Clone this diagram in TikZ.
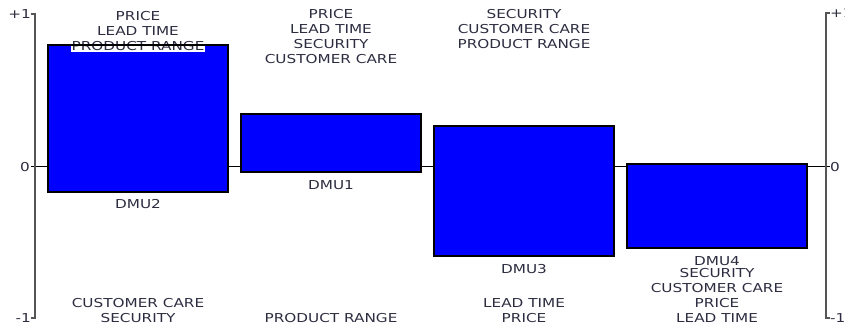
\documentclass[tikz,border=0pt]{standalone}
\usepackage{fontspec}
\setmainfont{DejaVu Sans}[FakeStretch=1.24]
\usepackage{tikz}
\usetikzlibrary{positioning}
\definecolor{barblue}{RGB}{0,0,255}
\definecolor{txtgray}{RGB}{45,45,65}
\definecolor{axisgray}{RGB}{85,85,85}

\begin{document}
\begin{tikzpicture}[
        x=1pt, y=-1pt,
        node distance=8pt,
        bar/.style={draw=black, line width=2pt, fill=barblue, inner sep=0pt, outer sep=0pt, anchor=north west, minimum width=180pt},
        lbl/.style={font=\fontsize{12.3}{15}\selectfont, text=txtgray, align=center, inner sep=0pt},
        axis/.style={draw=axisgray, line width=1.6pt},
        zero/.style={draw=black, line width=0.9pt}
    ]
        \useasboundingbox (0,0) rectangle (845,326);
        \coordinate (topline) at (0,9);
        \coordinate (botline) at (0,322.5);

        % zero line and the two axes
        \coordinate (lz) at (31,166);
        \coordinate (rz) at (830,166);
        \draw[zero] (lz) -- (rz);
        \draw[axis] (31,14) -- (35,14) -- (35,318) -- (31,318);
        \draw[axis] (830,13) -- (826,13) -- (826,318) -- (830,318);

        \node[lbl, anchor=east] (lplus) at (31,14) {+1};
        \node[lbl, anchor=east] (lnull) at (30,167) {0};
        \node[lbl, anchor=east] (lminus) at (31,318) {-1};
        \node[lbl, anchor=west] (rplus) at (830,13) {+1};
        \node[lbl, anchor=west] (rnull) at (830,167) {0};
        \node[lbl, anchor=west] (rminus) at (830,318) {-1};

        % bars
        \node[bar, minimum height=146pt] (dmu2) at (48,45.5) {};
        \node[bar, minimum height=58pt] (dmu1) at (241,114) {};
        \node[bar, minimum height=130.5pt] (dmu3) at (434,125.5) {};
        \node[bar, minimum height=84pt] (dmu4) at (627,164) {};

        \node[lbl, below=of dmu2] (name2) {DMU2};
        \node[lbl, below=of dmu1] (name1) {DMU1};
        \node[lbl, below=of dmu3] (name3) {DMU3};
        \node[lbl, below=of dmu4] (name4) {DMU4};

        % criteria above
        \node[lbl, anchor=north, fill=white, inner sep=1pt] (up2) at ([yshift=-1pt]dmu2.north |- topline) {PRICE\\LEAD TIME\\PRODUCT RANGE};
        \draw[black, line width=2pt] (dmu2.north west) -- (dmu2.north east);
        \node[lbl, anchor=north] (up1) at (dmu1.north |- topline) {PRICE\\LEAD TIME\\SECURITY\\CUSTOMER CARE};
        \node[lbl, anchor=north] (up3) at (dmu3.north |- topline) {SECURITY\\CUSTOMER CARE\\PRODUCT RANGE};

        % criteria below
        \node[lbl, anchor=south] (down2) at (dmu2.south |- botline) {CUSTOMER CARE\\SECURITY};
        \node[lbl, anchor=south] (down1) at (dmu1.south |- botline) {PRODUCT RANGE};
        \node[lbl, anchor=south] (down3) at (dmu3.south |- botline) {LEAD TIME\\PRICE};
        \node[lbl, anchor=south] (down4) at (dmu4.south |- botline) {SECURITY\\CUSTOMER CARE\\PRICE\\LEAD TIME};
    \end{tikzpicture}
\end{document}
